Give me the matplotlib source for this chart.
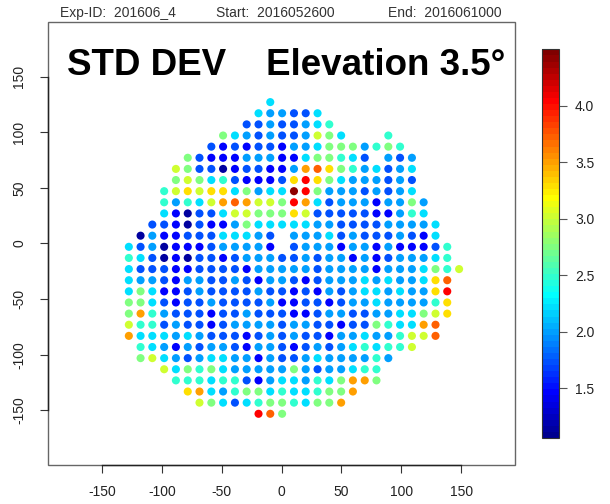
import numpy as np
import matplotlib.pyplot as plt
from matplotlib.colors import LinearSegmentedColormap
from matplotlib.patches import Rectangle

plt.rcParams['font.family'] = ['Liberation Sans', 'DejaVu Sans']

# std dev class codes -> value
level_values = {'N': 1.15, 'B': 1.45, 'b': 1.75, 'c': 2.0, 'C': 2.22, 't': 2.5,
                'g': 2.75, 'y': 3.0, 'Y': 3.28, 'o': 3.48, 'O': 3.72, 'R': 4.05,
                'D': 4.42}

# grid column centres (column -13 .. 15)
col_x = [-127.5, -117.7, -107.9, -98.0, -88.2, -78.3, -68.5, -58.6, -48.8,
         -38.9, -29.1, -19.2, -9.4, 0.5, 10.4, 20.2, 30.1, 39.9, 49.8, 59.6,
         69.5, 79.3, 89.2, 99.0, 108.9, 118.7, 128.6, 138.4, 148.3]

# grid rows, north to south
row_y = [127, 117, 107, 97, 87, 77, 67, 57, 47, 37, 27, 17, 7, -3, -13, -23,
         -33, -43, -53, -63, -73, -83, -93, -103, -113, -123, -133, -143, -153]

# first column of each row
row_first_col = [-1, -2, -3, -5, -6, -8, -9, -9, -10, -10, -10, -11, -12, -13,
                 -13, -13, -13, -13, -13, -13, -13, -13, -12, -12, -10, -9, -8,
                 -7, -2]

# class of each point along the row, ' ' = no data
row_levels = [
    "C",
    "CccbbC",
    "bbcbbcCt",
    "gCcbcbbcygC   t",
    "bBbBbbBccCgggctgt",
    "gbBBBcccBBCggtCb cbc",
    "ygbbNBbbBBcoOYgtcCbcC",
    "gygCtbBBBbYRYgCcccbcb",
    "tyYyYYCgcCCDRgcccbcbcC",
    "tctCyoOoyygRoCbcccBccgc",
    "CBNbbCyygggYybbbbbBBctC",
    "bbBNbBBcgCCCCCccbbbbccccC",
    "NcBBbbbCCCcb cccCbcbbbcbBC",
    "CbcNBBBbccccB bcccBccBcBBBbt",
    "tCbNBNbbBbcccbbcbccBcBbcccCt",
    "CbbbBBbbbbBcccccbccccBcccCgty",
    "CccbBccbbcbBccbBbcccCcCccCYO",
    "CgCBBbcbbbbcbbBbBcbcCCcCccYR",
    "ggCbBbbcbbbbcBBbbBbccCcccctY",
    "gotcbbbBbbcbbbBBbccbbccCCgyY",
    "yttbcbbBbccccbccbbBbbgtCCoO",
    "oCCCcCcbbbBbcbcbbBccCcctyyO",
    "tCcBcbccbBccbBbcbcCtCtty",
    "gyCcbcCCccBcbbcCcccctc",
    "yCgtgCcccccgcbccCtt",
    "tttCttbBcCCctCgoog",
    "YoCctggCtCCtggo",
    "ygCbCtggtCggo",
    "ROg",
]

xs, ys, vals = [], [], []
for y, first, codes in zip(row_y, row_first_col, row_levels):
    for k, ch in enumerate(codes):
        if ch == ' ':
            continue
        xs.append(col_x[first + 13 + k])
        ys.append(y)
        vals.append(level_values[ch])

# 64-step rainbow palette
anchors = [(0.0, (0, 0, 0.5625)), (7 / 63, (0, 0, 1)), (23 / 63, (0, 1, 1)),
           (39 / 63, (1, 1, 0)), (55 / 63, (1, 0, 0)), (1.0, (0.5, 0, 0))]
cmap = LinearSegmentedColormap.from_list('tim', anchors, N=64)

fig = plt.figure(figsize=(6.1, 5.04), dpi=100)
ax = fig.add_axes([0.0787, 0.0774, 0.7656, 0.879])
sc = ax.scatter(xs, ys, c=vals, cmap=cmap, vmin=1.06, vmax=4.5, s=34,
                marker='o', linewidths=0)
ax.set_xlim(-195, 195)
ax.set_ylim(-199, 199)

ticks = [-150, -100, -50, 0, 50, 100, 150]
ax.set_xticks(ticks)
ax.set_yticks(ticks)
ax.set_xticklabels([str(t) for t in ticks])
ax.set_yticklabels([str(t) for t in ticks], rotation=90, va='center')
ax.tick_params(direction='out', length=5.5, width=0.8, color='#333333',
               labelsize=10, labelcolor='#222222')
ax.tick_params(axis='x', pad=9)
ax.tick_params(axis='y', pad=10)

for side in ['top', 'right']:
    ax.spines[side].set_visible(False)
for side in ['bottom', 'left']:
    ax.spines[side].set_bounds(-150, 150)
    ax.spines[side].set_color('#222222')
    ax.spines[side].set_linewidth(1.0)
ax.add_patch(Rectangle((0, 0), 1, 1, transform=ax.transAxes, fill=False,
                       edgecolor='#666666', linewidth=1.0, clip_on=False,
                       zorder=0))

ax.text(-179, 151, 'STD DEV', fontsize=26.5, fontweight='bold', ha='left',
        va='baseline')
ax.text(187, 151, 'Elevation 3.5°', fontsize=26.5, fontweight='bold',
        ha='right', va='baseline')

fig.text(60 / 610, 1 - 17 / 504, 'Exp-ID:  201606_4', fontsize=10,
         color='#333333', ha='left', va='baseline')
fig.text(216 / 610, 1 - 17 / 504, 'Start:  2016052600', fontsize=10,
         color='#333333', ha='left', va='baseline')
fig.text(502 / 610, 1 - 17 / 504, 'End:  2016061000', fontsize=10,
         color='#333333', ha='right', va='baseline')

cax = fig.add_axes([0.888, 0.131, 0.0284, 0.771])
cb = fig.colorbar(sc, cax=cax)
cb.set_ticks([1.5, 2.0, 2.5, 3.0, 3.5, 4.0])
cb.set_ticklabels(['1.5', '2.0', '2.5', '3.0', '3.5', '4.0'])
cb.outline.set_linewidth(0.8)
cb.outline.set_edgecolor('#333333')
cax.tick_params(direction='out', length=5.5, width=0.8, color='#555555',
                labelsize=10, labelcolor='#222222', pad=6)

fig.savefig('out.png', dpi=100)
